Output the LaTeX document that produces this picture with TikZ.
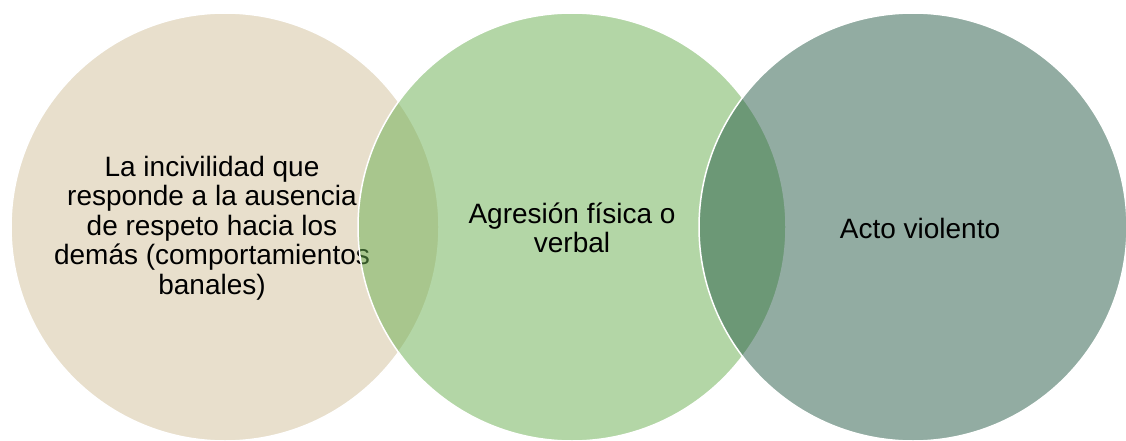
\documentclass[tikz,border=0pt]{standalone}
\usepackage{fontspec}
\setmainfont{Liberation Sans}
\definecolor{beige}{RGB}{232,223,204}
\definecolor{greenA}{RGB}{105,175,79}
\definecolor{greenB}{RGB}{39,91,71}
\tikzset{
  ring/.style={circle, minimum size=428pt, inner sep=0pt, outer sep=0pt, draw=white, line width=1.5pt},
  label/.style={align=center, font=\fontsize{28}{29.5}\selectfont, text=black, inner sep=0pt}
}
\begin{document}
\begin{tikzpicture}[x=1pt,y=-1pt]
\useasboundingbox (0,0) rectangle (1126,441);
\fill[white] (0,0) rectangle (1126,441);
\node (c1) [ring, fill=beige] at (225,227) {};
\node (t1) [label] at (212,228) {La incivilidad que\\responde a la ausencia\\de respeto hacia los\\demás (comportamientos\\banales)};
\node (c2) [ring, fill=greenA, fill opacity=0.5] at (572,227) {};
\node (t2) [label] at (572,228) {Agresión física o\\verbal};
\node (c3) [ring, fill=greenB, fill opacity=0.5] at (913,227) {};
\node (t3) [label] at (920,228) {Acto violento};
\end{tikzpicture}
\end{document}
